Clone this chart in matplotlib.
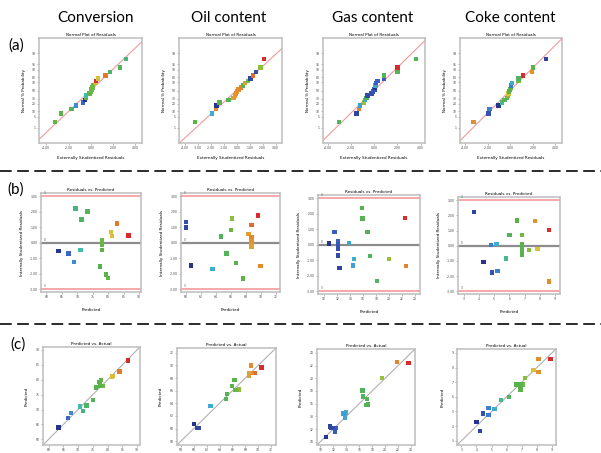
import numpy as np
import matplotlib
matplotlib.use("Agg")
import matplotlib.pyplot as plt
from matplotlib.colors import LinearSegmentedColormap
from matplotlib.lines import Line2D
from statistics import NormalDist

# ---------------- data ----------------
responses = ["Conversion", "Oil content", "Gas content", "Coke content"]
row_labels = ["(a)", "(b)", "(c)"]
prob_ticks = [1, 5, 10, 20, 30, 50, 70, 80, 90, 95, 99]

conv_pred = [64.0, 67.2, 68.9, 69.5, 71.0, 71.4, 73.3, 78.0, 78.0, 78.0, 78.0, 78.0, 78.0, 77.4, 79.2, 79.9, 81.0, 81.2, 82.8, 86.5]
conv_int = [-0.51, -0.68, -1.26, 2.23, -0.45, 1.51, 2.02, 0.17, 0.10, 0.04, -0.04, -0.13, -0.45, -1.53, -2.06, -2.28, 0.68, 0.45, 1.26, 0.47]
conv_ext = [-0.51, -0.69, -1.35, 3.14, -0.45, 1.71, 2.60, 0.21, 0.15, 0.06, 0.00, -0.10, -0.45, -1.74, -2.69, -3.23, 0.66, 0.45, 1.32, 0.45]
conv_act = [63.4, 66.5, 67.7, 71.6, 70.6, 72.8, 75.1, 78.3, 78.2, 78.1, 78.0, 77.8, 77.4, 76.0, 77.3, 77.7, 81.6, 81.7, 84.0, 87.0]

oil_pred = [60.1, 60.1, 60.75, 63.6, 64.7, 65.45, 66.2, 66.1, 66.7, 67.7, 68.4, 68.8, 68.8, 68.8, 68.8, 68.8, 68.8, 68.8, 69.7, 70.0]
oil_int = [1.35, 0.99, -1.46, -1.68, 0.41, -0.69, 1.57, 0.84, -1.31, -2.30, 0.58, 1.16, 0.37, 0.26, 0.10, -0.04, -0.15, -0.28, 1.76, -1.48]
oil_ext = [1.50, 1.06, -1.58, -1.94, 0.47, -0.65, 1.84, 0.85, -1.35, -3.24, 0.65, 1.27, 0.31, 0.13, 0.03, -0.05, -0.13, -0.26, 2.12, -1.63]
oil_act = [60.75, 60.6, 60.0, 62.6, 65.0, 65.2, 67.0, 66.5, 65.9, 66.3, 68.6, 69.4, 69.0, 68.9, 68.8, 68.75, 68.65, 68.55, 70.5, 68.9]

gas_pred = [10.77, 11.6, 12.15, 12.15, 12.15, 12.15, 12.15, 12.15, 12.4, 13.8, 14.6, 14.45, 15.8, 15.9, 16.7, 17.1, 18.1, 20.0, 22.4, 22.6]
gas_int = [0.09, 0.81, 0.26, 0.13, 0.0, -0.13, -0.26, -0.68, -1.51, 0.13, -0.9, -1.33, 2.39, 1.71, 0.83, -0.74, -2.34, -0.92, 1.73, -1.36]
gas_ext = [0.09, 0.84, 0.29, 0.15, 0.03, -0.09, -0.23, -0.58, -1.53, 0.12, -0.81, -1.24, 3.60, 2.00, 0.84, -0.66, -3.05, -0.86, 2.00, -1.30]
gas_act = [10.9, 12.3, 12.45, 12.3, 12.15, 12.05, 11.9, 11.7, 11.5, 13.85, 14.0, 13.6, 17.1, 17.4, 17.2, 16.6, 16.5, 19.5, 23.6, 21.8]

coke_pred = [3.68, 4.3, 4.85, 4.78, 5.22, 5.15, 5.8, 6.0, 6.5, 6.85, 6.85, 6.85, 6.85, 6.85, 6.85, 7.3, 7.85, 7.7, 8.6, 8.6]
coke_int = [2.23, -1.07, -1.75, 0.04, -1.66, 0.11, -0.83, 0.70, 1.68, 0.70, 0.11, 0.0, -0.11, -0.33, -0.61, -0.28, -0.22, 1.62, 1.03, -2.36]
coke_ext = [3.17, -1.04, -1.93, 0.09, -1.84, 0.15, -0.74, 0.74, 2.00, 0.74, 0.05, -0.03, -0.09, -0.30, -0.50, -0.21, -0.15, 1.93, 1.13, -3.26]
coke_act = [4.22, 4.0, 4.42, 4.8, 4.81, 5.2, 5.63, 6.16, 6.91, 7.1, 6.93, 6.87, 6.82, 6.73, 6.62, 7.2, 7.77, 8.1, 8.9, 8.12]

norm_xticks = [[-4, -2, 0, 2, 4], [-4, -3, -2, -1, 0, 1, 2, 3], [-4, -2, 0, 2, 4], [-4, -2, 0, 2, 4]]
resid_yticks = [-3, -2, -1, 0, 1, 2, 3]
resid_xticks = [[60, 65, 70, 75, 80, 85, 90], [60, 62, 64, 66, 68, 70, 72],
                [10, 12, 14, 16, 18, 20, 22, 24], [3, 4, 5, 6, 7, 8, 9]]
pa_ticks = [[60, 65, 70, 75, 80, 85, 90], [58, 60, 62, 64, 66, 68, 70, 72],
            [10, 12, 14, 16, 18, 20, 22, 24], [3, 4, 5, 6, 7, 8, 9]]
resid_limit = 3

# ---------------- layout / style ----------------
W, H = 601, 453
fig = plt.figure(figsize=(W / 100, H / 100), dpi=100)

def box(l, t, r, b):
    return [l / W, 1 - b / H, (r - l) / W, (b - t) / H]

boxes_a = [(39, 38, 142, 143), (179, 38, 282, 143), (323, 38, 425, 143), (460, 38, 562, 143)]
boxes_b = [(41, 193, 141, 292), (181, 193, 280, 292), (318, 195, 420, 294), (458, 197, 560, 294)]
boxes_c = [(43, 347, 140, 445), (177, 348, 276, 445), (317, 349, 415, 445), (457, 349, 556, 445)]
norm_xlim = [(-4.65, 4.6), (-4.47, 3.5), (-4.41, 4.38), (-4.44, 4.59)]
resid_xlim = [(58.3, 90.6), (59.4, 72.6), (9.07, 24.75), (2.63, 9.33)]
pa_lim = [(58.1, 91.0), (57.4, 72.76), (9.5, 24.6), (2.71, 9.27)]
title_x = [95, 229, 373, 510]

cmap = LinearSegmentedColormap.from_list("de", [
    (0.00, "#27348b"), (0.12, "#3b5fc0"), (0.20, "#3d9ad6"), (0.29, "#3ebfc4"),
    (0.36, "#4ab36a"), (0.60, "#5bb346"), (0.70, "#a8c43c"), (0.77, "#d9c23a"),
    (0.85, "#e3892d"), (1.00, "#d92b2b")])

FS = 3.0
TS = 2.2

def style(ax):
    for s in ax.spines.values():
        s.set_color("#bdbdbd")
        s.set_linewidth(1.1)
    ax.tick_params(labelsize=TS, length=1.5, width=0.4, color="#808080",
                   pad=1, labelcolor="#404040")

nd = NormalDist()
data = [
    (conv_pred, conv_int, conv_ext, conv_act),
    (oil_pred, oil_int, oil_ext, oil_act),
    (gas_pred, gas_int, gas_ext, gas_act),
    (coke_pred, coke_int, coke_ext, coke_act),
]

for k, (pred, res_i, res_e, act) in enumerate(data):
    pred = np.array(pred); res_i = np.array(res_i)
    res_e = np.array(res_e); act = np.array(act)
    cols = cmap((act - act.min()) / (act.max() - act.min()))

    # (a) normal plot
    ax = fig.add_axes(box(*boxes_a[k]))
    style(ax)
    order = np.argsort(res_e)
    n = len(res_e)
    zq = np.array([nd.inv_cdf((i + 0.5) / n) for i in range(n)])
    ax.axline((res_e.mean(), 0), slope=1 / res_e.std(), color="#f29a9a", lw=0.8, zorder=1)
    ax.scatter(res_e[order], zq, c=cols[order], marker="s", s=10, lw=0, zorder=3)
    ax.set_xlim(*norm_xlim[k])
    ax.set_ylim(-3.28, 3.28)
    ax.set_xticks(norm_xticks[k], [f"{v:.2f}" for v in norm_xticks[k]])
    ax.set_yticks([nd.inv_cdf(p / 100) for p in prob_ticks], [str(p) for p in prob_ticks])
    ax.set_title("Normal Plot of Residuals", fontsize=FS, pad=1.5)
    ax.set_xlabel("Externally Studentized Residuals", fontsize=FS, labelpad=4)
    ax.set_ylabel("Normal % Probability", fontsize=FS, labelpad=4)

    # (b) residuals vs predicted
    ax = fig.add_axes(box(*boxes_b[k]))
    style(ax)
    ax.axhline(resid_limit, color="#f4a3a3", lw=1.3, zorder=1)
    ax.axhline(-resid_limit, color="#f4a3a3", lw=1.3, zorder=1)
    ax.axhline(0, color="#8c8c8c", lw=1.6, zorder=1)
    ax.scatter(pred, res_i, c=cols, marker="s", s=10, lw=0, zorder=3)
    ax.set_xlim(*resid_xlim[k])
    ax.set_ylim(-3.18, 3.22)
    ax.set_xticks(resid_xticks[k])
    ax.set_yticks(resid_yticks, [f"{v:.2f}" for v in resid_yticks])
    for yv, lab in [(resid_limit, "3"), (0, "0"), (-resid_limit, "-3")]:
        ax.text(0.03, yv + 0.06, lab, transform=ax.get_yaxis_transform(),
                fontsize=2, color="#404040", va="bottom")
    ax.set_title("Residuals vs. Predicted", fontsize=FS, pad=1.5)
    ax.set_xlabel("Predicted", fontsize=FS, labelpad=6)
    ax.set_ylabel("Internally Studentized Residuals", fontsize=FS, labelpad=4)

    # (c) predicted vs actual
    ax = fig.add_axes(box(*boxes_c[k]))
    style(ax)
    ax.axline((0, 0), slope=1, color="#b0b0b0", lw=0.8, zorder=1)
    ax.scatter(act, pred, c=cols, marker="s", s=10, lw=0, zorder=3)
    ax.set_xlim(*pa_lim[k])
    ax.set_ylim(*pa_lim[k])
    ax.set_xticks(pa_ticks[k])
    ax.set_yticks(pa_ticks[k])
    ax.set_title("Predicted vs. Actual", fontsize=FS, pad=1.5)
    ax.set_ylabel("Predicted", fontsize=FS, labelpad=5)

    fig.text(title_x[k] / W, 1 - 18 / H, responses[k], fontsize=11,
             family="Lato", ha="center", va="center")

for lab, (x, y) in zip(row_labels, [(16, 46), (16, 190), (18, 345)]):
    fig.text(x / W, 1 - y / H, lab, fontsize=11, family="Lato", ha="center", va="center")

for y in [171, 324]:
    fig.add_artist(Line2D([0, 1], [1 - y / H, 1 - y / H], transform=fig.transFigure,
                          color="#1a1a1a", lw=1.3, dashes=(6.5, 3.0)))

fig.savefig("out.png", dpi=100)
